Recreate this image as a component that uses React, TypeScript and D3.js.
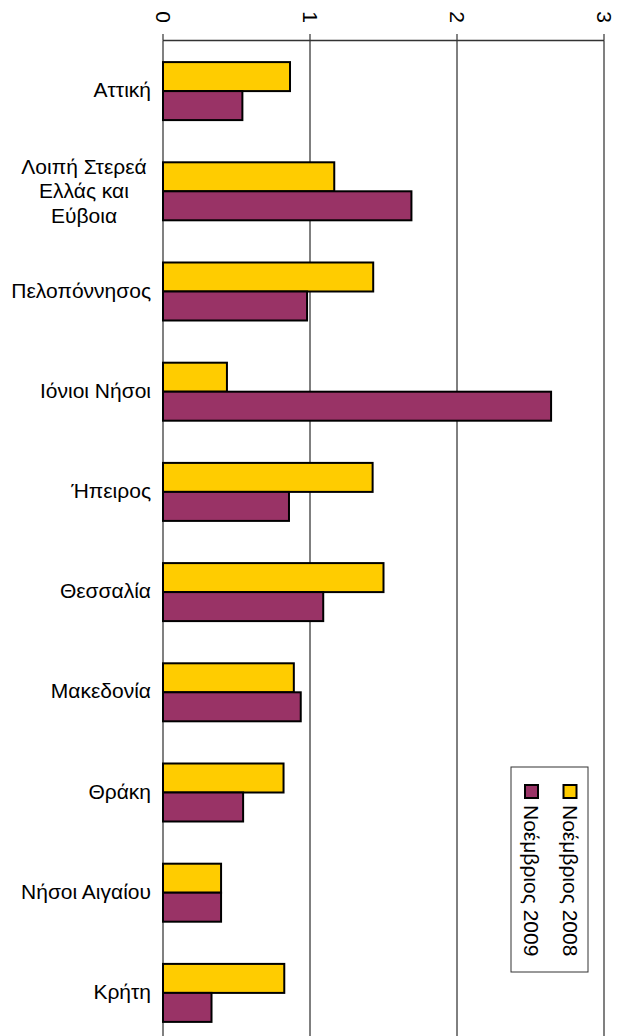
import React from "react";
import * as d3 from "d3";

const categories = [
  "Αττική",
  "Λοιπή Στερεά Ελλάς και Εύβοια",
  "Πελοπόννησος",
  "Ιόνιοι Νήσοι",
  "Ήπειρος",
  "Θεσσαλία",
  "Μακεδονία",
  "Θράκη",
  "Νήσοι Αιγαίου",
  "Κρήτη",
];
const categoryLines = [
  ["Αττική"],
  ["Λοιπή Στερεά", "Ελλάς και", "Εύβοια"],
  ["Πελοπόννησος"],
  ["Ιόνιοι Νήσοι"],
  ["Ήπειρος"],
  ["Θεσσαλία"],
  ["Μακεδονία"],
  ["Θράκη"],
  ["Νήσοι Αιγαίου"],
  ["Κρήτη"],
];
const seriesNames = ["Νοέμβριος 2008", "Νοέμβριος 2009"];
const values2008 = [0.864, 1.165, 1.43, 0.435, 1.426, 1.5, 0.89, 0.82, 0.395, 0.825];
const values2009 = [0.54, 1.69, 0.98, 2.64, 0.857, 1.09, 0.937, 0.545, 0.395, 0.33];
const tickValues = [0, 1, 2, 3];
const colors = ["#FFCC00", "#993366"];

const W = 623;
const H = 1036;
const FONT = "'Liberation Sans', Arial, sans-serif";

export default function App() {
  const x = d3.scaleLinear().domain([0, 3]).range([163, 604]);
  const y = d3.scaleBand<string>().domain(categories).range([41, 1043]).padding(0);
  const bw = y.bandwidth();
  const inner = d3
    .scaleBand<string>()
    .domain(seriesNames)
    .range([bw / 2 - 29, bw / 2 + 29])
    .padding(0);
  const seriesValues = [values2008, values2009];
  const axisY = 40.5;

  return (
    <svg
      width={W}
      height={H}
      style={{ position: "absolute", left: 0, top: 0, background: "#fff" }}
      fontFamily={FONT}
    >
      <rect x={0} y={0} width={W} height={H} fill="#fff" />
      {/* gridlines */}
      {tickValues.map((t) => (
        <line
          key={"g" + t}
          x1={x(t)}
          x2={x(t)}
          y1={axisY}
          y2={H}
          stroke={t === 0 || t === 3 ? "#808080" : "#000"}
          strokeWidth={t === 0 || t === 3 ? 2 : 1}
        />
      ))}
      {/* axis line and ticks */}
      <line x1={x(0)} x2={x(3)} y1={axisY} y2={axisY} stroke="#333" strokeWidth={1.5} />
      {tickValues.map((t) => (
        <g key={"t" + t}>
          <line x1={x(t)} x2={x(t)} y1={34} y2={axisY} stroke="#333" strokeWidth={1.2} />
          <text
            transform={`translate(${x(t)},17) rotate(90)`}
            textAnchor="middle"
            dominantBaseline="central"
            fontSize={21}
            fill="#000"
          >
            {t}
          </text>
        </g>
      ))}
      {/* bars */}
      {categories.map((c, i) => (
        <g key={c} transform={`translate(0,${y(c)})`}>
          {seriesNames.map((s, j) => (
            <rect
              key={s}
              x={x(0)}
              y={inner(s)}
              width={x(seriesValues[j][i]) - x(0)}
              height={inner.bandwidth()}
              fill={colors[j]}
              stroke="#000"
              strokeWidth={2}
            />
          ))}
        </g>
      ))}
      {/* category labels */}
      {categories.map((c, i) => {
        const cy = (y(c) as number) + bw / 2;
        const lines = categoryLines[i];
        if (lines.length === 1) {
          return (
            <text
              key={"l" + c}
              x={151}
              y={cy - 1.5}
              textAnchor="end"
              dominantBaseline="central"
              fontSize={21}
              fill="#000"
            >
              {lines[0]}
            </text>
          );
        }
        return (
          <text
            key={"l" + c}
            textAnchor="middle"
            dominantBaseline="central"
            fontSize={21}
            fill="#000"
          >
            {lines.map((ln, k) => (
              <tspan key={k} x={84} y={cy - 1 + (k - (lines.length - 1) / 2) * 24.5}>
                {ln}
              </tspan>
            ))}
          </text>
        );
      })}
      {/* legend */}
      <rect x={511} y={767} width={77} height={205} fill="#fff" stroke="#333" strokeWidth={1} />
      {seriesNames.map((s, j) => {
        const lx = j === 0 ? 570 : 531.5;
        return (
          <g key={"lg" + s}>
            <rect
              x={lx - 6.5}
              y={785}
              width={13}
              height={13}
              fill={colors[j]}
              stroke="#000"
              strokeWidth={2}
            />
            <text
              transform={`translate(${lx},805) rotate(90)`}
              textAnchor="start"
              dominantBaseline="central"
              fontSize={21}
              fill="#000"
            >
              {s}
            </text>
          </g>
        );
      })}
    </svg>
  );
}
